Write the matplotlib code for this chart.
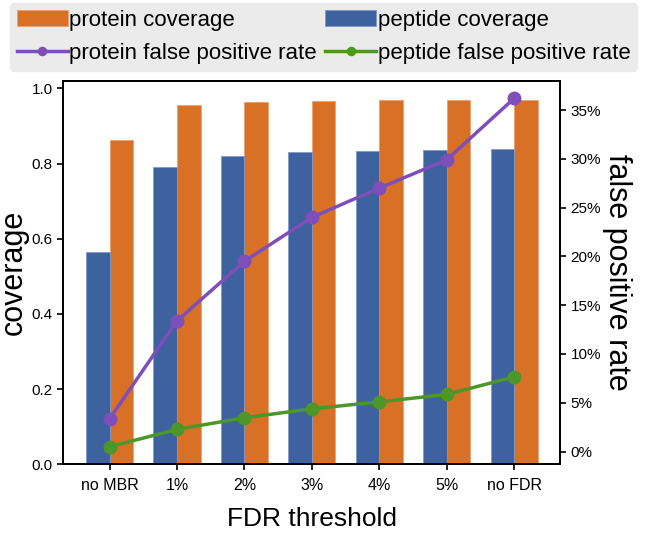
import matplotlib
matplotlib.use("Agg")
import matplotlib.pyplot as plt
import matplotlib.ticker as mtick
import numpy as np

plt.rcParams['font.family'] = ['Liberation Sans', 'DejaVu Sans']

thresholds = ["no MBR", "1%", "2%", "3%", "4%", "5%", "no FDR"]
peptide_cov = [0.565, 0.792, 0.821, 0.830, 0.834, 0.837, 0.840]
protein_cov = [0.864, 0.957, 0.965, 0.967, 0.968, 0.969, 0.970]
protein_fpr = [0.0335, 0.134, 0.195, 0.240, 0.270, 0.299, 0.362]
peptide_fpr = [0.0049, 0.0227, 0.0346, 0.0438, 0.0509, 0.0585, 0.0765]

blue = "#3e61a0"
orange = "#d87025"
purple = "#7e4fb8"
green = "#4c962a"

fig = plt.figure(figsize=(6.47, 5.36), dpi=100)
ax = fig.add_axes([0.098, 0.134, 0.768, 0.715])
x = np.arange(len(thresholds))
w = 0.35

b1 = ax.bar(x + w / 2, protein_cov, w, color=orange, edgecolor="#f0a070",
            linewidth=0.6, label="protein coverage")
b2 = ax.bar(x - w / 2, peptide_cov, w, color=blue, edgecolor="#7d9ac8",
            linewidth=0.6, label="peptide coverage")
ax.set_ylim(0, 1.02)
ax.set_xticks(x)
ax.set_xticklabels(thresholds)
ax.set_ylabel("coverage", fontsize=22, labelpad=2)
ax.set_xlabel("FDR threshold", fontsize=19, labelpad=10)
ax.tick_params(labelsize=11, width=1.2, length=4)
ax.tick_params(axis='x', labelsize=11.5, pad=6)

ax2 = ax.twinx()
l1, = ax2.plot(x, protein_fpr, color=purple, marker='o', lw=2.5, ms=9,
               label="protein false positive rate")
l2, = ax2.plot(x, peptide_fpr, color=green, marker='o', lw=2.5, ms=9,
               label="peptide false positive rate")
ax2.yaxis.set_major_formatter(mtick.PercentFormatter(1.0, decimals=0))
ax2.set_ylabel("false positive rate", fontsize=22, rotation=270, labelpad=22)
ax2.tick_params(labelsize=11, width=1.2, length=4)

for a in (ax, ax2):
    for s in a.spines.values():
        s.set_linewidth(1.3)

# ncol=2 fills column by column
leg = fig.legend(handles=[b1, l1, b2, l2], loc='upper center',
                 bbox_to_anchor=(0.5, 1.0), ncol=2, fontsize=16,
                 handlelength=2.3, handletextpad=0.05, columnspacing=0.4,
                 markerscale=0.65, borderaxespad=0.15,
                 frameon=True, fancybox=True, borderpad=0.3, labelspacing=0.55)
leg.get_frame().set_facecolor("#ebebeb")
leg.get_frame().set_edgecolor("#ebebeb")
leg.get_frame().set_alpha(1)

fig.savefig("out.png", dpi=100)
